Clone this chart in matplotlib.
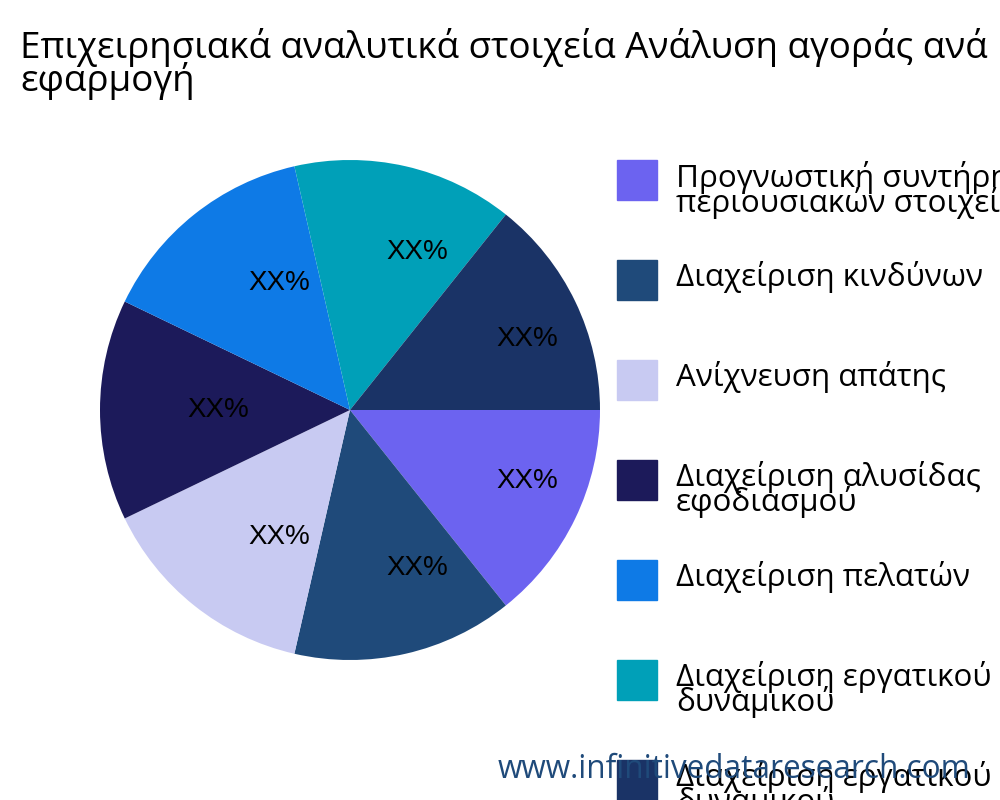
import matplotlib
matplotlib.use("Agg")
import matplotlib.pyplot as plt
from matplotlib.patches import Rectangle

labels = ["Προγνωστική συντήρηση\nπεριουσιακών στοιχείων", "Διαχείριση κινδύνων", "Ανίχνευση απάτης",
          "Διαχείριση αλυσίδας\nεφοδιασμού", "Διαχείριση πελατών", "Διαχείριση εργατικού\nδυναμικού",
          "Διαχείριση εργατικού\nδυναμικού"]
values = [1, 1, 1, 1, 1, 1, 1]
colors = ["#6c63f0", "#1f4a7a", "#c8caf2", "#1c1a5a", "#0e7ae6", "#00a0b8", "#1a3366"]

fig = plt.figure(figsize=(10, 8), dpi=100)
fig.text(0.02, 0.965, "Επιχειρησιακά αναλυτικά στοιχεία Ανάλυση αγοράς ανά\nεφαρμογή",
         fontsize=26.5, family=["Open Sans", "DejaVu Sans"], va="top", linespacing=0.82)
ax = fig.add_axes([0.1, 0.175, 0.5, 0.625])
_, _, autotexts = ax.pie(values, colors=colors, startangle=0, counterclock=False,
       autopct=lambda p: "XX%", pctdistance=0.65,
       textprops=dict(fontsize=20, family="Liberation Sans"))
for t in autotexts:
    t.set_ha("left")
ax.set_xlim(-1, 1)
ax.set_ylim(-1, 1)
ax.set_aspect("equal")
for i, (lab, c) in enumerate(zip(labels, colors)):
    ytop = 160 + i * 100
    fig.patches.append(Rectangle((617 / 1000, 1 - (ytop + 40) / 800), 0.04, 0.05,
                                 transform=fig.transFigure, color=c, figure=fig))
    fig.text(676 / 1000, 1 - (ytop + 1) / 800, lab, fontsize=22.6, va="top",
             family=["Open Sans", "DejaVu Sans"], linespacing=0.72)
fig.text(0.498, 0.0375, "www.infinitivedataresearch.com", fontsize=22.7, color="#1f4a7a",
         family=["Open Sans", "DejaVu Sans"], va="center")
fig.savefig("out.png")
